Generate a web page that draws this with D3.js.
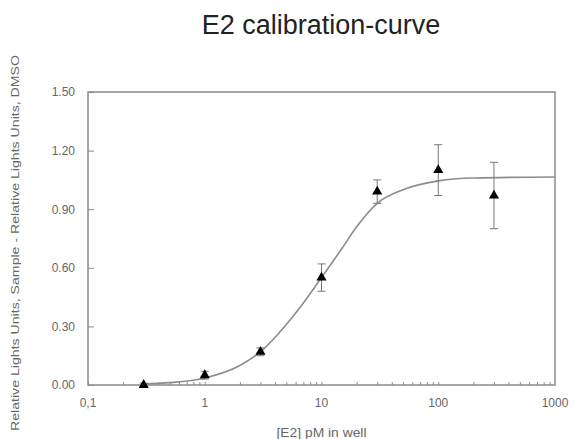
<!DOCTYPE html>
<html>
<head>
<meta charset="utf-8">
<script src="https://cdn.jsdelivr.net/npm/d3@7"></script>
<style>
  body { margin: 0; background: #fff; }
  text { font-family: "Liberation Sans", Arial, sans-serif; }
</style>
</head>
<body>
<script>
// measured points (concentration in pM, mean response, error)
var conc = [0.3, 1, 3, 10, 30, 100, 300];
var resp = [0.0, 0.05, 0.17, 0.55, 0.99, 1.10, 0.97];
var err  = [0.01, 0.02, 0.02, 0.07, 0.06, 0.13, 0.17];

// fitted curve
var curveX = [0.3, 0.5, 1, 2, 3, 5, 7, 10, 15, 20, 30, 50, 100, 200, 1000];
var curveY = [0.005, 0.012, 0.036, 0.10, 0.17, 0.31, 0.42, 0.55, 0.70, 0.81, 0.93, 1.00, 1.045, 1.06, 1.065];

var yTicks = [0, 0.3, 0.6, 0.9, 1.2, 1.5];
var xTicks = [0.1, 1, 10, 100, 1000];
var xTickLabels = ["0,1", "1", "10", "100", "1000"];

var W = 575, H = 439;
var margin = {top: 92, right: 20, bottom: 54, left: 88};
var width = W - margin.left - margin.right,
    height = H - margin.top - margin.bottom;

var svg = d3.select("body").append("svg")
    .attr("width", W)
    .attr("height", H);

var g = svg.append("g")
    .attr("transform", "translate(" + margin.left + "," + margin.top + ")");

var x = d3.scaleLog().domain([0.1, 1000]).range([0, width]);
var y = d3.scaleLinear().domain([0, 1.5]).range([height, 0]);

var axisColor = "#8a8a8a";

// frame
g.append("rect")
    .attr("width", width)
    .attr("height", height)
    .attr("fill", "none")
    .attr("stroke", axisColor)
    .attr("stroke-width", 1.5);

// y axis ticks (inward) and labels
var yAxis = g.append("g")
    .call(d3.axisLeft(y).tickValues(yTicks).tickSize(-6).tickPadding(13)
      .tickFormat(d3.format(".2f")));
yAxis.select(".domain").remove();
yAxis.selectAll("line").attr("stroke", axisColor);
yAxis.selectAll("text").attr("fill", "#666").style("font-size", "12px");

// x axis minor ticks (every 1..9 of each decade)
var minor = [];
xTicks.slice(0, -1).forEach(function(d) {
  for (var k = 1; k < 10; k++) minor.push(d * k);
});
var xAxis = g.append("g")
    .attr("transform", "translate(0," + height + ")")
    .call(d3.axisBottom(x).tickValues(minor).tickSize(-3).tickFormat(""));
xAxis.select(".domain").remove();
xAxis.selectAll("line").attr("stroke", axisColor);

g.append("g").selectAll("text")
    .data(xTicks)
  .enter().append("text")
    .attr("x", function(d) { return x(d); })
    .attr("y", height + 22)
    .attr("text-anchor", "middle")
    .attr("fill", "#666")
    .style("font-size", "12px")
    .text(function(d, i) { return xTickLabels[i]; });

// fitted curve
var line = d3.line()
    .x(function(d) { return x(d[0]); })
    .y(function(d) { return y(d[1]); })
    .curve(d3.curveMonotoneX);

g.append("path")
    .datum(d3.zip(curveX, curveY))
    .attr("d", line)
    .attr("fill", "none")
    .attr("stroke", "#8c8c8c")
    .attr("stroke-width", 1.6);

// error bars
var pts = d3.zip(conc, resp, err);
var eb = g.append("g").selectAll("g")
    .data(pts)
  .enter().append("g")
    .attr("stroke", "#777")
    .attr("stroke-width", 1);
eb.append("line")
    .attr("x1", function(d) { return x(d[0]); })
    .attr("x2", function(d) { return x(d[0]); })
    .attr("y1", function(d) { return y(d[1] - d[2]); })
    .attr("y2", function(d) { return y(d[1] + d[2]); });
eb.selectAll(".cap")
    .data(function(d) { return [[d[0], d[1] - d[2]], [d[0], d[1] + d[2]]]; })
  .enter().append("line")
    .attr("class", "cap")
    .attr("x1", function(d) { return x(d[0]) - 4; })
    .attr("x2", function(d) { return x(d[0]) + 4; })
    .attr("y1", function(d) { return y(d[1]); })
    .attr("y2", function(d) { return y(d[1]); });

// markers
g.append("g").selectAll("path")
    .data(pts)
  .enter().append("path")
    .attr("d", d3.symbol().type(d3.symbolTriangle).size(45))
    .attr("transform", function(d) { return "translate(" + x(d[0]) + "," + y(d[1]) + ")"; })
    .attr("fill", "#000");

// title
svg.append("text")
    .attr("x", 321)
    .attr("y", 34)
    .attr("text-anchor", "middle")
    .attr("fill", "#222")
    .style("font-size", "27px")
    .text("E2 calibration-curve");

// axis titles
svg.append("text")
    .attr("x", margin.left + width / 2)
    .attr("y", 437)
    .attr("text-anchor", "middle")
    .attr("fill", "#666")
    .style("font-size", "12px")
    .attr("textLength", 90)
    .attr("lengthAdjust", "spacingAndGlyphs")
    .text("[E2] pM in well");

svg.append("text")
    .attr("transform", "translate(19,243) rotate(-90)")
    .attr("text-anchor", "middle")
    .attr("fill", "#666")
    .style("font-size", "11px")
    .attr("textLength", 376)
    .attr("lengthAdjust", "spacingAndGlyphs")
    .text("Relative Lights Units, Sample - Relative Lights Units, DMSO");
</script>
</body>
</html>
